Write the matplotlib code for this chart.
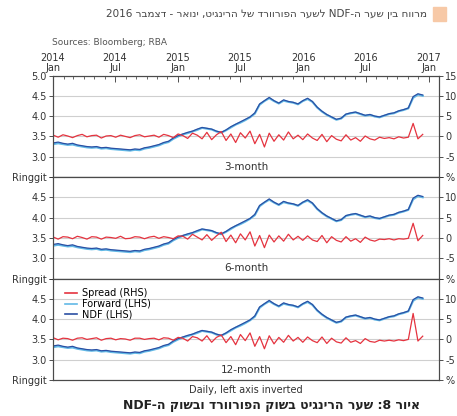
import re
import numpy as np
import pandas as pd
import matplotlib
matplotlib.use('Agg')
import matplotlib.pyplot as plt
import matplotlib.dates as mdates
from matplotlib.lines import Line2D
from matplotlib.patches import Rectangle
from matplotlib.ticker import FuncFormatter, FixedLocator

# fortnightly observations, Jan 2014 - Dec 2016
dates = pd.date_range('2014-01-02', periods=78, freq='14D')

ndf = [3.34, 3.36, 3.33, 3.31, 3.33, 3.29, 3.27, 3.25, 3.24, 3.25,
       3.22, 3.23, 3.21, 3.20, 3.19, 3.18, 3.17, 3.19, 3.18, 3.22,
       3.24, 3.27, 3.30, 3.35, 3.38, 3.46, 3.52, 3.56, 3.60, 3.63,
       3.68, 3.72, 3.70, 3.68, 3.63, 3.60, 3.66, 3.74, 3.80, 3.86,
       3.92, 3.98, 4.08, 4.30, 4.38, 4.46, 4.38, 4.32, 4.40, 4.36,
       4.34, 4.30, 4.38, 4.44, 4.36, 4.22, 4.12, 4.04, 3.98, 3.92,
       3.95, 4.05, 4.08, 4.10, 4.06, 4.02, 4.04, 4.00, 3.98, 4.02,
       4.06, 4.08, 4.13, 4.16, 4.20, 4.48, 4.55, 4.52]

forward = [3.31, 3.33, 3.31, 3.29, 3.30, 3.27, 3.25, 3.23, 3.22, 3.23,
           3.20, 3.21, 3.19, 3.18, 3.17, 3.16, 3.15, 3.17, 3.16, 3.20,
           3.22, 3.25, 3.28, 3.33, 3.36, 3.44, 3.50, 3.55, 3.58, 3.62,
           3.66, 3.71, 3.69, 3.67, 3.62, 3.59, 3.65, 3.72, 3.79, 3.84,
           3.90, 3.97, 4.06, 4.28, 4.37, 4.44, 4.37, 4.31, 4.38, 4.35,
           4.33, 4.29, 4.37, 4.42, 4.35, 4.21, 4.11, 4.03, 3.97, 3.91,
           3.94, 4.04, 4.07, 4.09, 4.05, 4.01, 4.03, 3.99, 3.97, 4.01,
           4.05, 4.07, 4.12, 4.15, 4.19, 4.45, 4.53, 4.50]

spread_3m = [0.3, -0.2, 0.4, 0.1, -0.3, 0.2, 0.5, -0.1, 0.2, 0.3,
             -0.4, 0.1, 0.2, -0.2, 0.3, 0.0, -0.3, 0.2, 0.4, -0.1,
             0.1, 0.3, -0.2, 0.5, 0.2, -0.3, 0.6, 0.2, -0.5, 0.8,
             0.3, -0.6, 1.0, -0.8, 0.4, 1.2, -1.0, 0.6, -1.5, 0.9,
             -0.4, 1.3, -1.8, 0.5, -2.6, 0.8, -1.2, 0.4, -0.9, 1.1,
             -0.6, 0.3, -0.8, 0.6, -0.4, -1.0, 0.5, -1.3, 0.2, -0.7,
             -1.1, 0.4, -0.9, -0.3, -1.2, 0.1, -0.6, -0.9, -0.2, -0.5,
             -0.3, -0.6, -0.1, -0.4, -0.2, 3.2, -0.6, 0.5]

spread_6m = [0.2, -0.3, 0.3, 0.2, -0.2, 0.4, 0.1, -0.3, 0.3, 0.2,
             -0.3, 0.2, 0.1, -0.1, 0.4, -0.2, -0.1, 0.3, 0.2, -0.2,
             0.2, 0.4, -0.1, 0.3, 0.1, -0.2, 0.5, 0.4, -0.3, 0.9,
             0.2, -0.5, 0.8, -0.6, 0.5, 1.4, -0.9, 0.7, -1.2, 1.0,
             -0.5, 1.5, -2.0, 0.6, -2.4, 0.7, -1.0, 0.5, -0.8, 0.9,
             -0.5, 0.4, -0.6, 0.5, -0.5, -0.9, 0.6, -1.2, 0.3, -0.6,
             -1.0, 0.3, -0.8, -0.2, -1.1, 0.2, -0.5, -0.8, -0.3, -0.4,
             -0.2, -0.5, -0.2, -0.3, -0.1, 3.6, -0.7, 0.6]

spread_12m = [0.4, -0.1, 0.3, 0.2, -0.2, 0.3, 0.4, 0.0, 0.2, 0.4,
              -0.2, 0.2, 0.3, -0.1, 0.2, 0.1, -0.2, 0.3, 0.3, 0.0,
              0.2, 0.3, -0.1, 0.4, 0.3, -0.2, 0.5, 0.3, -0.4, 0.7,
              0.4, -0.4, 0.9, -0.7, 0.5, 1.1, -0.8, 0.7, -1.3, 1.2,
              -0.3, 1.6, -1.7, 0.7, -2.3, 0.9, -1.1, 0.5, -0.7, 1.0,
              -0.4, 0.5, -0.7, 0.6, -0.3, -0.8, 0.6, -1.0, 0.3, -0.6,
              -0.9, 0.4, -0.7, -0.3, -1.0, 0.2, -0.5, -0.7, -0.2, -0.4,
              -0.2, -0.4, -0.1, -0.3, 0.0, 6.4, -0.4, 0.8]

tenors = ['3-month', '6-month', '12-month']
spreads = [spread_3m, spread_6m, spread_12m]

left_ticks = [2.5, 3.0, 3.5, 4.0, 4.5, 5.0]
right_ticks = [-10, -5, 0, 5, 10, 15]

title_he = 'איור 8: שער הרינגיט בשוק הפורוורד ובשוק ה-NDF'
note_he = 'מרווח בין שער ה-NDF לשער הפורוורד של הרינגיט, ינואר - דצמבר 2016'


def rtl(s):
    # matplotlib has no bidi support: lay hebrew out right to left by hand
    return re.sub(r'[A-Za-z0-9]+', lambda m: m.group(0)[::-1], s[::-1])


c_ndf = '#2b4fa3'
c_fwd = '#62b9e6'
c_spread = '#e5333f'
c_axis = '#4a4a4a'
c_text = '#333333'

fig = plt.figure(figsize=(4.57, 4.16), dpi=100)

L, W, H = 0.116, 0.845, 0.244
bottoms = [0.5745, 0.3305, 0.0865]

for i, (tenor, spread) in enumerate(zip(tenors, spreads)):
    ax = fig.add_axes([L, bottoms[i], W, H])
    ax2 = ax.twinx()

    ax.set_xlim(pd.Timestamp('2014-01-01'), pd.Timestamp('2017-02-01'))
    ax.set_ylim(2.5, 5.0)
    ax2.set_ylim(-10, 15)

    ax.plot(dates, forward, color=c_fwd, lw=1.5)
    ax.plot(dates, ndf, color=c_ndf, lw=0.9)
    ax2.plot(dates, spread, color=c_spread, lw=0.9)

    ax.yaxis.set_major_locator(FixedLocator(left_ticks))
    ax2.yaxis.set_major_locator(FixedLocator(right_ticks))
    llab = ['Ringgit', '3.0', '3.5', '4.0', '4.5', '5.0' if i == 0 else '']
    rlab = ['%', '-5', '0', '5', '10', '15' if i == 0 else '']
    ax.set_yticklabels(llab)
    ax2.set_yticklabels(rlab)
    ax.grid(axis='y', color='#cfcfcf', lw=0.8)
    ax.set_axisbelow(True)

    for a in (ax, ax2):
        a.tick_params(axis='y', labelsize=7, colors=c_text, length=3,
                      width=0.6, pad=1.5)
        for sp in a.spines.values():
            sp.set_color(c_axis)
            sp.set_linewidth(0.8)

    if i == 0:
        ax.xaxis.tick_top()
        ax.xaxis.set_major_locator(mdates.MonthLocator(bymonth=[1, 7]))
        ax.xaxis.set_minor_locator(mdates.MonthLocator())
        ax.xaxis.set_major_formatter(FuncFormatter(
            lambda v, p: '%d\n%s' % (mdates.num2date(v).year,
                                     mdates.num2date(v).strftime('%b'))))
        ax.tick_params(axis='x', which='major', direction='in', length=4,
                       width=0.6, labelsize=7, colors=c_text, pad=2)
        ax.tick_params(axis='x', which='minor', direction='in', length=2.5,
                       width=0.6, colors=c_axis)
        for t in ax.get_xticklabels():
            t.set_linespacing(1.0)
    else:
        ax.set_xticks([])

    ax.text(0.5, 0.05, tenor, transform=ax.transAxes, ha='center',
            va='bottom', fontsize=7.5, color=c_text)

    if i == 2:
        handles = [Line2D([], [], color=c_spread, lw=1.2),
                   Line2D([], [], color=c_fwd, lw=1.2),
                   Line2D([], [], color=c_ndf, lw=1.2)]
        ax2.legend(handles, ['Spread (RHS)', 'Forward (LHS)', 'NDF (LHS)'],
                   loc='upper left', bbox_to_anchor=(0.02, 0.94),
                   frameon=False, fontsize=7, handlelength=1.3,
                   handletextpad=0.5, labelspacing=0.05, borderaxespad=0)

fig.text(0.114, 0.899, 'Sources: Bloomberg; RBA', fontsize=6.5,
         color='#555555', ha='left', va='center')
fig.text(0.538, 0.062, 'Daily, left axis inverted', fontsize=7,
         color=c_text, ha='center', va='center')

fig.text(0.935, 0.966, rtl(note_he), fontsize=7.5, color='#444444',
         ha='right', va='center', family='DejaVu Sans')
fig.patches.append(Rectangle((0.947, 0.95), 0.03, 0.034,
                             transform=fig.transFigure, color='#f7c9a7'))
fig.text(0.92, 0.026, rtl(title_he), fontsize=9, color='#222222',
         ha='right', va='center', family='DejaVu Sans', weight='bold')

fig.savefig('out.png', dpi=100)
